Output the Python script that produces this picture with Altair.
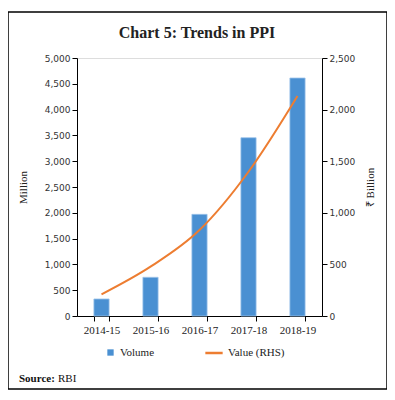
import altair as alt
import pandas as pd

years = ["2014-15", "2015-16", "2016-17", "2017-18", "2018-19"]
volume = [330, 750, 1970, 3455, 4612]
value = [210, 478, 833, 1398, 2132]
title_text = ["Chart 5: Trends in PPI"]

df = pd.DataFrame({"year": years, "volume": volume, "value": value,
                   "s1": ["Volume"] * 5, "s2": ["Value (RHS)"] * 5})

BLUE = "#4a90d2"
ORANGE = "#ed7d31"
SERIF = "Liberation Serif"
SANS = "DejaVu Sans"

x = alt.X("year:N", title=None, sort=years,
          scale=alt.Scale(paddingInner=0.69, paddingOuter=0.345),
          axis=alt.Axis(labelAngle=0, tickBand="extent", labelFont=SERIF,
                        labelFontSize=11, labelColor="#222", domainColor="#000",
                        tickColor="#000", tickSize=5, labelPadding=3))

bars = alt.Chart(df).mark_bar(color=BLUE, stroke="#9cc3ea", strokeWidth=0.8).encode(
    x=x,
    y=alt.Y("volume:Q", title="Million",
            scale=alt.Scale(domain=[0, 5000]),
            axis=alt.Axis(values=list(range(0, 5001, 500)), format=",d", grid=False,
                          labelFont=SANS, labelFontSize=9, labelColor="#333",
                          domainColor="#000", tickColor="#000", tickSize=5,
                          titleFont=SERIF, titleFontSize=11, titleFontWeight="normal",
                          titleColor="#222", titlePadding=16)),
    fill=alt.Fill("s1:N", scale=alt.Scale(domain=["Volume"], range=[BLUE]),
                  legend=alt.Legend(title=None, orient="none", legendX=28, legendY=289,
                                    symbolType="square", symbolSize=40, symbolStrokeWidth=0,
                                    labelFont=SERIF, labelFontSize=11, labelColor="#222",
                                    padding=0, labelOffset=4)),
)

line = alt.Chart(df).mark_line(strokeWidth=2, interpolate="monotone").encode(
    x=x,
    y=alt.Y("value:Q", title="₹ Billion",
            scale=alt.Scale(domain=[0, 2500]),
            axis=alt.Axis(orient="right", values=list(range(0, 2501, 500)), format=",d",
                          grid=False, labelFont=SANS, labelFontSize=9, labelColor="#333",
                          domainColor="#000", tickColor="#000", tickSize=5,
                          titleFont=SERIF, titleFontSize=11, titleFontWeight="normal",
                          titleColor="#222", titleAngle=270, titlePadding=21)),
    stroke=alt.Stroke("s2:N", scale=alt.Scale(domain=["Value (RHS)"], range=[ORANGE]),
                      legend=alt.Legend(title=None, orient="none", legendX=127, legendY=285,
                                        symbolType="stroke", symbolSize=300, symbolStrokeWidth=2.5,
                                        labelFont=SERIF, labelFontSize=11, labelColor="#222",
                                        padding=0, labelOffset=4)),
)

frame_df = pd.DataFrame({"k": [0]})
frame = alt.Chart(frame_df).mark_rect(fill=None, stroke="#000", strokeWidth=1.5).encode(
    x=alt.value(-69), x2=alt.value(310), y=alt.value(-46), y2=alt.value(331)
)

ttl = alt.Chart(pd.DataFrame({"t": title_text})).mark_text(
    font=SERIF, fontSize=16, fontWeight="bold", align="center", color="#222"
).encode(text="t:N", x=alt.value(120), y=alt.value(-25))

src = alt.Chart(pd.DataFrame({"t": ["Source:"]})).mark_text(
    font=SERIF, fontSize=11, fontWeight="bold", align="left", color="#111"
).encode(text="t:N", x=alt.value(-58), y=alt.value(321))
src2 = alt.Chart(pd.DataFrame({"t": ["RBI"]})).mark_text(
    font=SERIF, fontSize=11, align="left", color="#111"
).encode(text="t:N", x=alt.value(-19), y=alt.value(321))

chart = alt.layer(bars, line, frame, ttl, src, src2).resolve_scale(
    y="independent", fill="independent", stroke="independent"
).properties(
    width=245, height=258,
    autosize=alt.AutoSizeParams(type="none"),
    padding={"left": 69, "top": 50, "right": 65, "bottom": 76},
).configure_view(stroke=None).configure(background="white")

chart.save("out.html", embed_options={"renderer": "svg", "actions": False})
